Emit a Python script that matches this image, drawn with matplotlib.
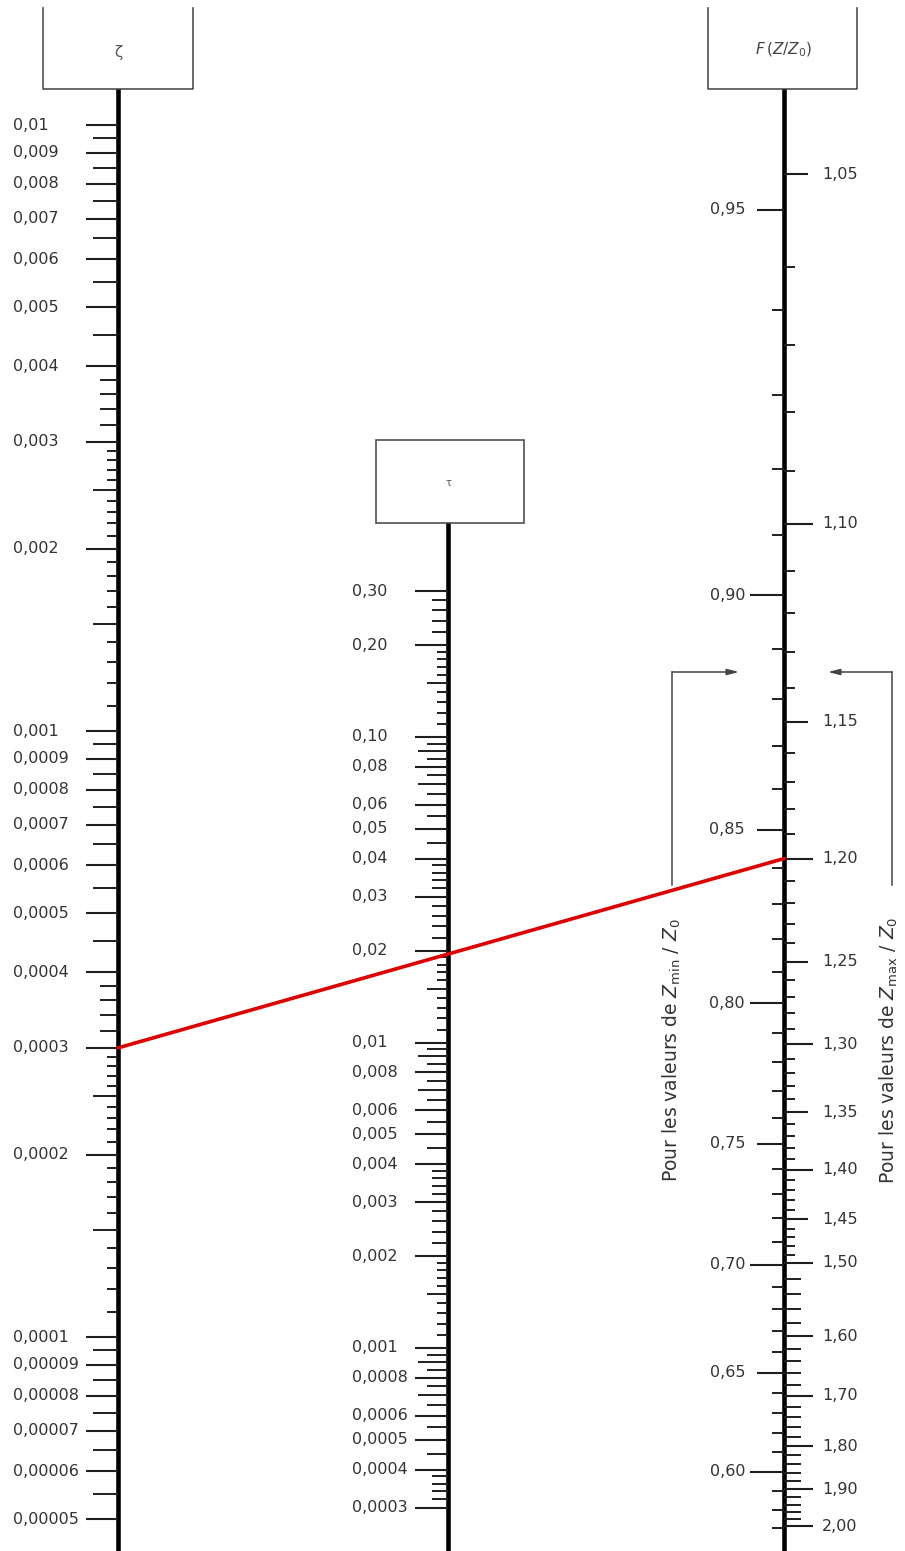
import numpy as np
import matplotlib
matplotlib.use("Agg")
import matplotlib.pyplot as plt
from matplotlib.patches import ConnectionPatch, Rectangle

W, H = 905, 1551

# ---------------- data: scale ζ (left) ----------------
zeta_major = [0.01, 0.009, 0.008, 0.007, 0.006, 0.005, 0.004, 0.003, 0.002,
              0.001, 0.0009, 0.0008, 0.0007, 0.0006, 0.0005, 0.0004, 0.0003, 0.0002,
              0.0001, 0.00009, 0.00008, 0.00007, 0.00006, 0.00005]
zeta_labels = ["0,01", "0,009", "0,008", "0,007", "0,006", "0,005", "0,004", "0,003", "0,002",
               "0,001", "0,0009", "0,0008", "0,0007", "0,0006", "0,0005", "0,0004", "0,0003", "0,0002",
               "0,0001", "0,00009", "0,00008", "0,00007", "0,00006", "0,00005"]
zeta_medium = [0.0095, 0.0085, 0.0075, 0.0065, 0.0055, 0.0045, 0.0025, 0.0015,
               0.00095, 0.00085, 0.00075, 0.00065, 0.00055, 0.00045, 0.00025, 0.00015,
               0.000095, 0.000085, 0.000075, 0.000065, 0.000055]
zeta_short = [0.0038, 0.0036, 0.0034, 0.0032, 0.00038, 0.00036, 0.00034, 0.00032]
zeta_tiny = [0.0029, 0.0028, 0.0027, 0.0026, 0.0024, 0.0023, 0.0022, 0.0021,
             0.0019, 0.0018, 0.0017, 0.0016, 0.0014, 0.0013, 0.0012, 0.0011,
             0.00029, 0.00028, 0.00027, 0.00026, 0.00024, 0.00023, 0.00022, 0.00021,
             0.00019, 0.00018, 0.00017, 0.00016, 0.00014, 0.00013, 0.00012, 0.00011]

# ---------------- data: scale τ (middle) ----------------
tau_major = [0.30, 0.20, 0.10, 0.08, 0.06, 0.05, 0.04, 0.03, 0.02, 0.01, 0.008, 0.006,
             0.005, 0.004, 0.003, 0.002, 0.001, 0.0008, 0.0006, 0.0005, 0.0004, 0.0003]
tau_labels = ["0,30", "0,20", "0,10", "0,08", "0,06", "0,05", "0,04", "0,03", "0,02", "0,01",
              "0,008", "0,006", "0,005", "0,004", "0,003", "0,002", "0,001", "0,0008",
              "0,0006", "0,0005", "0,0004", "0,0003"]
tau_long = [0.09, 0.07, 0.009, 0.007, 0.0009, 0.0007]
tau_medium = [0.15, 0.095, 0.085, 0.075, 0.065, 0.055, 0.045, 0.015,
              0.0095, 0.0085, 0.0075, 0.0065, 0.0055, 0.0045, 0.0015,
              0.00095, 0.00085, 0.00075, 0.00065, 0.00055, 0.00045]
tau_short = [0.28, 0.26, 0.24, 0.22, 0.038, 0.036, 0.034, 0.032, 0.028, 0.026, 0.024, 0.022,
             0.0038, 0.0036, 0.0034, 0.0032, 0.0028, 0.0026, 0.0024, 0.0022,
             0.00038, 0.00036, 0.00034, 0.00032]
tau_tiny = [0.19, 0.18, 0.17, 0.16, 0.14, 0.13, 0.12, 0.11,
            0.019, 0.018, 0.017, 0.016, 0.014, 0.013, 0.012, 0.011,
            0.0019, 0.0018, 0.0017, 0.0016, 0.0014, 0.0013, 0.0012, 0.0011]

# ---------------- data: scale F(Z/Z0) (right) ----------------
F_low_long = [0.90, 0.80, 0.70, 0.60]
F_low_mid = [0.95, 0.85, 0.75, 0.65]
F_low_labels_v = [0.95, 0.90, 0.85, 0.80, 0.75, 0.70, 0.65, 0.60]
F_low_labels = ["0,95", "0,90", "0,85", "0,80", "0,75", "0,70", "0,65", "0,60"]
F_low_minor = [0.94, 0.93, 0.92, 0.91, 0.89, 0.88, 0.87, 0.86, 0.84, 0.83, 0.82, 0.81,
               0.79, 0.78, 0.77, 0.76, 0.74, 0.73, 0.72, 0.71, 0.69, 0.68, 0.67, 0.66,
               0.64, 0.63, 0.62, 0.61, 0.59, 0.58, 0.57]
F_high_long = [1.10, 1.20, 1.30, 1.40, 1.50, 1.60, 1.70, 1.80, 1.90, 2.00]
F_high_mid = [1.05, 1.15, 1.25, 1.35, 1.45]
F_high_labels_v = [1.05, 1.10, 1.15, 1.20, 1.25, 1.30, 1.35, 1.40, 1.45, 1.50,
                   1.60, 1.70, 1.80, 1.90, 2.00]
F_high_labels = ["1,05", "1,10", "1,15", "1,20", "1,25", "1,30", "1,35", "1,40", "1,45", "1,50",
                 "1,60", "1,70", "1,80", "1,90", "2,00"]
F_high_minor_fine = [1.06, 1.07, 1.08, 1.09, 1.11, 1.12, 1.13, 1.14, 1.16, 1.17, 1.18, 1.19,
                     1.21, 1.22, 1.23, 1.24, 1.26, 1.27, 1.28, 1.29, 1.31, 1.32, 1.33, 1.34,
                     1.36, 1.37, 1.38, 1.39, 1.41, 1.42, 1.43, 1.44, 1.46, 1.47, 1.48, 1.49]
F_high_minor_coarse = [1.52, 1.54, 1.56, 1.58, 1.62, 1.64, 1.66, 1.68, 1.72, 1.74, 1.76, 1.78,
                       1.82, 1.84, 1.86, 1.88, 1.92, 1.94, 1.96, 1.98]

# example reading (red line)
red_zeta = 0.0003
red_F = 1.20

# ---------------- styling ----------------
TXT = "#333333"
TICK = "#1e1e1e"
BOX = "#505050"
FS = 11.5
plt.rcParams["font.family"] = ["DejaVu Sans"]

fig = plt.figure(figsize=(W / 100, H / 100), dpi=100)


def overlay_axes():
    ax = fig.add_axes([0, 0, 1, 1])
    ax.set_xlim(0, W)
    ax.axis("off")
    ax.patch.set_visible(False)
    return ax


def log_lims(v_ref, y_ref, ppd):
    top = v_ref * 10 ** (y_ref / ppd)
    bottom = v_ref * 10 ** (-(H - y_ref) / ppd)
    return bottom, top


# pixel-space axes for frame elements
axp = overlay_axes()
axp.set_ylim(H, 0)

# ζ scale
ax_z = overlay_axes()
ax_z.set_yscale("log")
ax_z.set_ylim(*log_lims(0.01, 125, 606))

# τ scale
ax_t = overlay_axes()
ax_t.set_yscale("log")
ax_t.set_ylim(*log_lims(0.1, 737, 305.5))

# F scale: functional scale (two branches)
A_EXP = 1.35
F_C, F_K = 1773.5, 608.0


def g_hi(v):
    v = np.asarray(v, dtype=float)
    return 2 * np.log10(np.clip(v - 1, 1e-12, None)) - A_EXP * np.log10(np.clip(v, 1e-12, None))


def g_lo(v):
    v = np.asarray(v, dtype=float)
    return -(2 * np.log10(np.clip(1 - v, 1e-12, None)) - A_EXP * np.log10(np.clip(v, 1e-12, None)))


grid_hi = np.linspace(1 + 1e-6, 5, 200001)
grid_lo = np.linspace(0.05, 1 - 1e-6, 200001)
gh_grid = g_hi(grid_hi)
gl_grid = g_lo(grid_lo)


def inv_hi(t):
    return np.interp(t, gh_grid, grid_hi)


def inv_lo(t):
    return np.interp(t, gl_grid, grid_lo)


t_top = (0 - F_C) / F_K
t_bot = (H - F_C) / F_K

ax_fh = overlay_axes()
ax_fh.set_yscale("function", functions=(g_hi, inv_hi))
ax_fh.set_ylim(float(inv_hi(t_bot)), float(inv_hi(t_top)))

ax_fl = overlay_axes()
ax_fl.set_yscale("function", functions=(g_lo, inv_lo))
ax_fl.set_ylim(float(inv_lo(-t_bot)), float(inv_lo(-t_top)))

# ---------------- ζ ticks ----------------
XZ = 118
ax_z.hlines(zeta_major, 86, XZ, color=TICK, lw=1.5)
ax_z.hlines(zeta_medium, 93, XZ, color=TICK, lw=1.4)
ax_z.hlines(zeta_short, 100, XZ, color=TICK, lw=1.4)
ax_z.hlines(zeta_tiny, 107, XZ, color=TICK, lw=1.4)
for v, s in zip(zeta_major, zeta_labels):
    ax_z.text(13, v, s, ha="left", va="center", fontsize=FS, color=TXT)

# ---------------- τ ticks ----------------
XT = 448
ax_t.hlines(tau_major, 415, XT, color=TICK, lw=1.5)
ax_t.hlines(tau_long, 418, XT, color=TICK, lw=1.4)
ax_t.hlines(tau_medium, 427, XT, color=TICK, lw=1.4)
ax_t.hlines(tau_short, 432, XT, color=TICK, lw=1.4)
ax_t.hlines(tau_tiny, 437, XT, color=TICK, lw=1.4)
for v, s in zip(tau_major, tau_labels):
    ax_t.text(352, v, s, ha="left", va="center", fontsize=FS, color=TXT)

# ---------------- F ticks ----------------
XF = 784
ax_fl.hlines(F_low_long, 750, XF, color=TICK, lw=1.5)
ax_fl.hlines(F_low_mid, 757, XF, color=TICK, lw=1.5)
ax_fl.hlines(F_low_minor, 772, XF, color=TICK, lw=1.4)
for v, s in zip(F_low_labels_v, F_low_labels):
    ax_fl.text(745, v, s, ha="right", va="center", fontsize=FS, color=TXT)

ax_fh.hlines(F_high_long, XF, 813, color=TICK, lw=1.5)
ax_fh.hlines(F_high_mid, XF, 808, color=TICK, lw=1.5)
ax_fh.hlines(F_high_minor_fine, XF, 795, color=TICK, lw=1.4)
ax_fh.hlines(F_high_minor_coarse, XF, 801, color=TICK, lw=1.4)
for v, s in zip(F_high_labels_v, F_high_labels):
    ax_fh.text(822, v, s, ha="left", va="center", fontsize=FS, color=TXT)

# ---------------- frame elements (pixel axes) ----------------
axp.plot([XZ, XZ], [89, H], color="black", lw=3.3, solid_capstyle="butt", zorder=3)
axp.plot([XT, XT], [523, H], color="black", lw=3.3, solid_capstyle="butt", zorder=3)
axp.plot([XF, XF], [89, H], color="black", lw=3.3, solid_capstyle="butt", zorder=3)

axp.plot([43, 43, 193, 193], [8, 89, 89, 8], color=BOX, lw=1.2)
axp.plot([708, 708, 857, 857], [8, 89, 89, 8], color=BOX, lw=1.2)
axp.add_patch(Rectangle((376, 440), 148, 83, fill=False, ec=BOX, lw=1.2))

axp.text(118, 52, "ζ", ha="center", va="center", fontsize=11, color="#555555")
axp.text(448, 483, "τ", ha="center", va="center", fontsize=7, color="#555555")
axp.text(784, 50, r"$F\,(Z/Z_0)$", ha="center", va="center", fontsize=11, color="#444444")

# brackets with arrows
axp.plot([672, 672], [885, 672], color="#444444", lw=1.1)
axp.annotate("", xy=(739, 672), xytext=(672, 672),
             arrowprops=dict(arrowstyle="-|>,head_length=0.7,head_width=0.18",
                             color="#444444", lw=1.1, shrinkA=0, shrinkB=0))
axp.plot([892, 892], [885, 672], color="#444444", lw=1.1)
axp.annotate("", xy=(828, 672), xytext=(892, 672),
             arrowprops=dict(arrowstyle="-|>,head_length=0.7,head_width=0.18",
                             color="#444444", lw=1.1, shrinkA=0, shrinkB=0))

axp.text(672, 1050, r"Pour les valeurs de $Z_{\mathrm{min}}$ / $Z_0$", rotation=90,
         ha="center", va="center", fontsize=13.5, color=TXT)
axp.text(889, 1050, r"Pour les valeurs de $Z_{\mathrm{max}}$ / $Z_0$", rotation=90,
         ha="center", va="center", fontsize=13.5, color=TXT)

# red reading line through the three scales
con = ConnectionPatch(xyA=(XZ, red_zeta), coordsA=ax_z.transData,
                      xyB=(XF, red_F), coordsB=ax_fh.transData,
                      color="#e00000", lw=2.6, zorder=10)
fig.add_artist(con)

fig.savefig("out.png", dpi=100)
